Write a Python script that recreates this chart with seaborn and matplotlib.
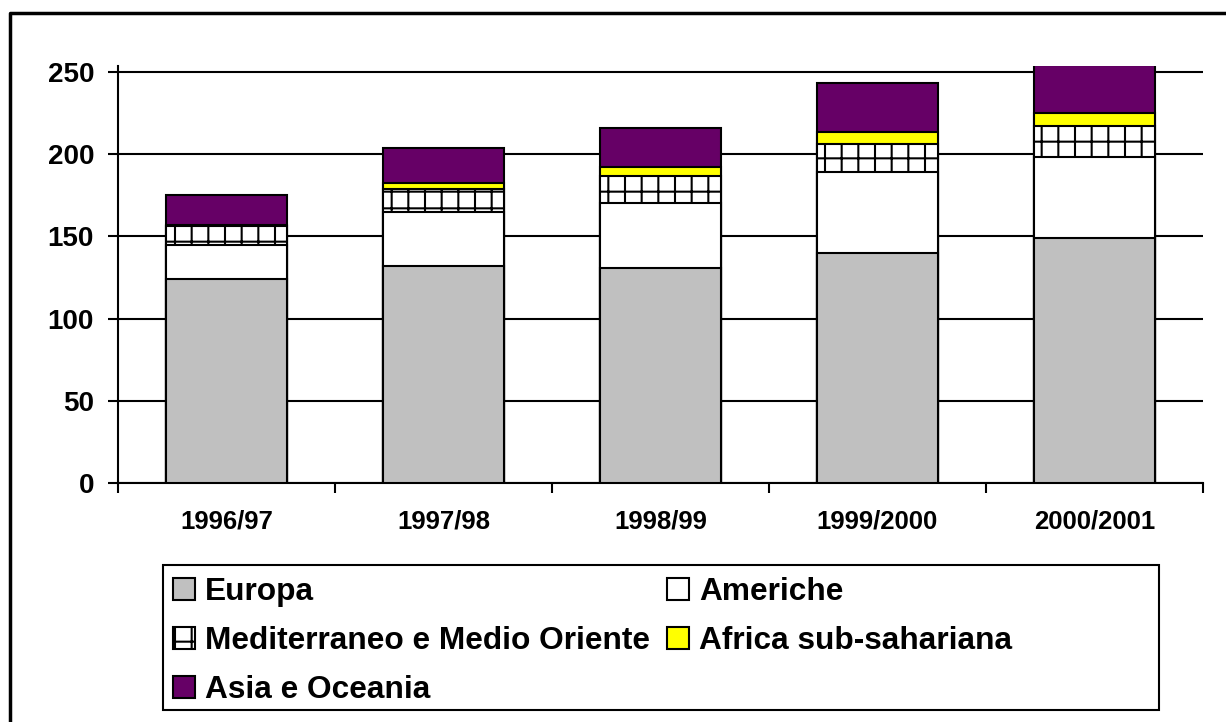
import matplotlib
matplotlib.use("Agg")
import matplotlib.pyplot as plt
from matplotlib.patches import Patch, Rectangle
from matplotlib.lines import Line2D
import seaborn as sns
import pandas as pd
import numpy as np

# ---- data ----
anni = ["1996/97", "1997/98", "1998/99", "1999/2000", "2000/2001"]
europa = [124, 132, 131, 140, 149]
americhe = [21, 33, 39, 49, 49]
mediterraneo = [11, 14, 17, 17, 19]
africa = [1, 3.5, 5, 7.5, 8]
asia = [18, 21.5, 24, 29.5, 29]

serie = ["Europa", "Americhe", "Mediterraneo e Medio Oriente",
         "Africa sub-sahariana", "Asia e Oceania"]
valori = [europa, americhe, mediterraneo, africa, asia]
colori = ["#C0C0C0", "#FFFFFF", "#FFFFFF", "#FFFF00", "#660066"]
tratteggi = [None, None, "+", None, None]

sns.set_theme(style="white")
plt.rcParams["font.family"] = ["Liberation Sans", "DejaVu Sans"]
plt.rcParams["text.color"] = "black"
plt.rcParams["hatch.linewidth"] = 1.5
plt.rcParams["hatch.color"] = "black"

df = pd.DataFrame({"anno": anni})
cum = np.zeros(len(anni))
cum_cols = []
for name, v in zip(serie, valori):
    cum = cum + np.array(v, dtype=float)
    df[name] = cum
    cum_cols.append(name)

fig = plt.figure(figsize=(12.26, 7.22), dpi=100)
ax = fig.add_axes([118 / 1226, 1 - 483 / 722, (1203 - 118) / 1226, (483 - 66) / 722])

# draw cumulative layers from top to bottom
for i in range(len(serie) - 1, -1, -1):
    sns.barplot(data=df, x="anno", y=cum_cols[i], color=colori[i], saturation=1,
                edgecolor="black", linewidth=1.5, width=0.56, errorbar=None,
                hatch=tratteggi[i], ax=ax, zorder=3)

ax.set_ylim(0, 253.6)
ax.set_xlim(-0.5, len(anni) - 0.5)
ax.set_yticks([0, 50, 100, 150, 200, 250])
ax.set_xlabel("")
ax.set_ylabel("")

ax.yaxis.grid(True, color="black", linewidth=1.5, zorder=0)
ax.xaxis.grid(False)
ax.set_axisbelow(True)
for s in ["top", "right"]:
    ax.spines[s].set_visible(False)
for s in ["left", "bottom"]:
    ax.spines[s].set_color("black")
    ax.spines[s].set_linewidth(1.5)

ax.tick_params(axis="y", which="major", direction="out", length=7.2, width=1.5,
               color="black", left=True, labelsize=20, pad=10)
ax.tick_params(axis="x", which="major", length=0, labelsize=18.5, pad=19)
ax.set_xticks(np.arange(-0.5, len(anni), 1.0), minor=True)
ax.tick_params(axis="x", which="minor", direction="out", length=7.2, width=1.5,
               color="black", bottom=True)
for lab in ax.get_xticklabels() + ax.get_yticklabels():
    lab.set_fontweight("bold")
    lab.set_color("black")

# legend
handles = [Patch(facecolor=colori[i], edgecolor="black", linewidth=1.5,
                 hatch=tratteggi[i], label=serie[i]) for i in range(len(serie))]
order = [0, 2, 4, 1, 3]
leg = fig.legend([handles[i] for i in order], [serie[i] for i in order],
                 ncol=2, loc="upper left",
                 bbox_to_anchor=(173 / 1226, 1 - 577 / 722),
                 frameon=False, prop={"weight": "bold", "size": 22.8},
                 labelcolor="black",
                 handlelength=0.7, handleheight=0.7, handletextpad=0.3,
                 columnspacing=0.55, labelspacing=0.6, borderpad=0.0,
                 borderaxespad=0.0)

fig.patches.append(Rectangle((163 / 1226, 1 - 710 / 722), (1159 - 163) / 1226,
                             (710 - 565) / 722, transform=fig.transFigure,
                             fill=False, edgecolor="black", linewidth=1.5))
# figure frame (top and left)
fig.lines.append(Line2D([10 / 1226, 10 / 1226, 1.0], [0.0, 1 - 13 / 722, 1 - 13 / 722],
                        transform=fig.transFigure, color="black", linewidth=2.5))

fig.savefig("out.png", dpi=100, facecolor="white")
